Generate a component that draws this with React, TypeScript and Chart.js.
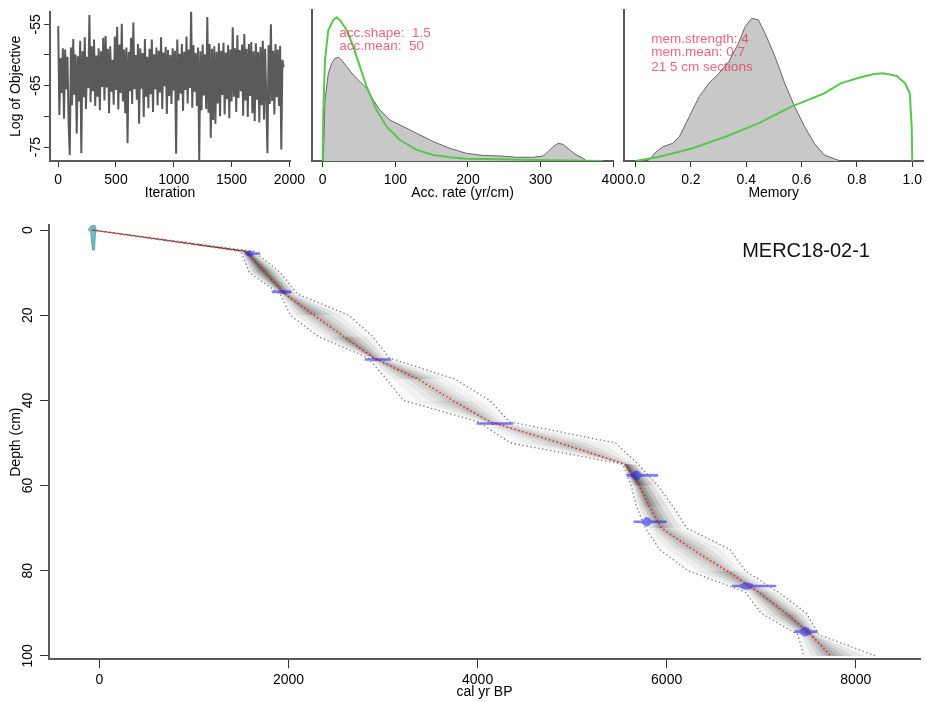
import React, { useEffect, useRef } from "react";
import { Chart, registerables } from "chart.js";

Chart.register(...registerables);

const FONT = "'Liberation Sans', Arial, Helvetica, sans-serif";
Chart.defaults.font.family = FONT;
Chart.defaults.font.size = 14;
Chart.defaults.color = "#000";

// ---------------- Panel 1: MCMC trace ----------------
const traceStep = 10;
const traceValues = [
  -55.3, -69.8, -60.5, -66.2, -58.9, -70.4, -59.1, -65.6, -60.3, -71.1,
  -76.3, -58.8, -68.2, -57.4, -66.5, -59.9, -72.8, -60.2, -67.6, -57.7,
  -76.0, -59.4, -66.9, -57.1, -68.8, -60.3, -65.4, -53.5, -67.7, -58.6,
  -65.9, -57.5, -68.3, -60.1, -66.8, -58.9, -69.0, -59.4, -65.2, -57.2,
  -67.4, -56.9, -65.3, -59.0, -69.5, -58.6, -66.0, -60.8, -68.1, -57.0,
  -65.7, -55.4, -68.9, -58.3, -66.2, -54.9, -67.6, -59.1, -69.5, -58.8,
  -74.4, -59.5, -65.9, -57.2, -68.0, -54.7, -65.6, -60.0, -67.3, -58.2,
  -71.2, -58.9, -65.5, -59.7, -70.1, -57.4, -66.8, -60.3, -68.7, -59.0,
  -66.4, -57.5, -69.3, -59.9, -65.6, -58.8, -68.2, -59.3, -66.1, -57.1,
  -68.8, -59.6, -65.1, -58.7, -69.6, -59.2, -66.7, -60.0, -68.0, -58.9,
  -65.8, -59.3, -76.1, -57.5, -67.4, -59.8, -66.3, -58.2, -69.1, -59.5,
  -65.7, -57.0, -67.9, -59.1, -65.4, -52.8, -68.6, -58.4, -66.0, -59.7,
  -68.3, -58.8, -77.1, -59.4, -69.0, -58.3, -66.6, -59.9, -68.8, -53.8,
  -69.4, -58.2, -73.5, -59.0, -70.6, -58.6, -71.2, -59.5, -67.9, -58.1,
  -70.0, -59.3, -66.5, -58.0, -69.7, -59.6, -67.2, -58.4, -70.3, -59.1,
  -67.6, -55.5, -66.8, -58.9, -69.3, -56.8, -67.0, -59.2, -65.9, -58.3,
  -69.9, -56.6, -67.4, -59.0, -70.1, -58.2, -66.7, -57.9, -69.5, -59.4,
  -70.8, -58.1, -67.3, -59.5, -71.0, -58.7, -68.2, -57.7, -70.5, -59.0,
  -67.1, -76.0, -58.4, -68.0, -55.0, -67.5, -59.3, -69.7, -58.2, -66.9,
  -59.1, -68.3, -58.5, -75.4, -60.8, -62.0,
];
const iterTicks = [0, 500, 1000, 1500, 2000];
const objTicks = [-75, -70, -65, -60, -55];
const objTickLabels = ["-75", "", "-65", "", "-55"];

// ---------------- Panel 2: accumulation rate ----------------
const accPostX = [0.9, 3.2, 7.8, 12.4, 17, 21.5, 26.1, 33, 42.1, 60.5, 69.6, 78.8, 92.6, 106.3, 129.3, 152.2, 175.1, 198.1, 221, 244, 266.8, 289.8, 303.5, 310.4, 317.3, 324.1, 331, 340.2, 349.3, 358.5, 363];
const accPost = [0, 0.424, 0.61, 0.68, 0.715, 0.722, 0.703, 0.657, 0.599, 0.506, 0.424, 0.355, 0.285, 0.251, 0.193, 0.135, 0.088, 0.053, 0.039, 0.035, 0.026, 0.026, 0.035, 0.065, 0.1, 0.123, 0.116, 0.077, 0.042, 0.019, 0];
const accPriorX = [0, 0.9, 3.2, 7.8, 14.6, 19.2, 23.8, 33, 42.1, 51.3, 60.5, 74.2, 88, 106.3, 129.3, 152.2, 175.1, 198.1, 243.9, 289.8, 386];
const accPrior = [0, 0.355, 0.703, 0.912, 0.981, 1.0, 0.981, 0.912, 0.796, 0.657, 0.517, 0.355, 0.239, 0.146, 0.077, 0.042, 0.026, 0.016, 0.012, 0.007, 0];
const accTicks = [0, 100, 200, 300, 400];
const accShapeText = "acc.shape:  1.5";
const accMeanText = "acc.mean:  50";

// ---------------- Panel 3: memory ----------------
const memPostX = [0.04, 0.051, 0.075, 0.099, 0.134, 0.158, 0.194, 0.23, 0.265, 0.301, 0.337, 0.372, 0.396, 0.42, 0.444, 0.468, 0.504, 0.539, 0.575, 0.611, 0.646, 0.682, 0.718, 0.741];
const memPost = [0, 0.012, 0.065, 0.1, 0.124, 0.17, 0.311, 0.451, 0.544, 0.614, 0.696, 0.825, 0.941, 1.0, 0.988, 0.895, 0.731, 0.544, 0.381, 0.24, 0.124, 0.042, 0.016, 0];
const memPriorX = [0, 0.087, 0.206, 0.325, 0.444, 0.563, 0.682, 0.741, 0.801, 0.861, 0.896, 0.944, 0.974, 0.991, 0.998, 1.0];
const memPrior = [0, 0.03, 0.089, 0.17, 0.264, 0.381, 0.474, 0.544, 0.58, 0.61, 0.615, 0.596, 0.544, 0.474, 0.24, 0];
const memTicks = [0, 0.2, 0.4, 0.6, 0.8, 1.0];
const memTexts = ["mem.strength: 4", "mem.mean: 0.7", "21 5 cm sections"];

// ---------------- Main: age-depth model ----------------
const depths = [0, 5, 10, 15, 20, 25, 30, 35, 40, 45, 50, 55, 60, 65, 70, 75, 80, 85, 90, 95, 100];
const ageMin = [-85, 1495, 1585, 1910, 2020, 2315, 2840, 3035, 3215, 4005, 4350, 5535, 5625, 5681, 5775, 5925, 6225, 6830, 7000, 7387, 7450];
const ageMean = [-70, 1550, 1757, 1960, 2270, 2585, 2900, 3370, 3735, 4130, 4870, 5560, 5710, 5820, 5945, 6274, 6635, 6968, 7262, 7524, 7735];
const ageMax = [-55, 1635, 1915, 2095, 2640, 2890, 3065, 3760, 4130, 4335, 5460, 5700, 5910, 6070, 6215, 6670, 6830, 7180, 7480, 7610, 8210];

const dateDepth = [5.5, 14.5, 30.4, 45.4, 57.6, 68.5, 83.6, 94.3];
const dateAge = [1590, 1930, 2915, 4165, 5680, 5790, 6845, 7465];
const dateSd = [30, 55, 45, 80, 35, 35, 55, 40];
const dateFrom = [1535, 1820, 2805, 3990, 5575, 5650, 6690, 7350];
const dateTo = [1700, 2030, 3090, 4375, 5910, 6000, 7160, 7600];
const dateHalfHeight = [0.75, 0.45, 0.4, 0.35, 1.2, 1.1, 0.85, 1.15];

const surfaceAge = [-120, -95, -50, -32, -42, -53, -74, -92];
const surfaceDepth = [0, -0.9, -1.2, 0, 0.8, 4.7, 4.7, 0.8];

const ageTicks = [0, 2000, 4000, 6000, 8000];
const depthTicks = [0, 20, 40, 60, 80, 100];
const coreName = "MERC18-02-1";

// ---------------- helpers ----------------
type TextItem = { text: string; x: number; y: number; size: number; color: string; align: CanvasTextAlign };

function labelPlugin(cfg: { yValues?: number[]; yLabels?: string[]; yOffset?: number; texts?: TextItem[] }) {
  return {
    id: "customLabels",
    afterDraw(chart: any) {
      const ctx = chart.ctx as CanvasRenderingContext2D;
      ctx.save();
      if (cfg.yValues && cfg.yLabels) {
        const s = chart.scales.y;
        const left = chart.chartArea.left;
        ctx.font = `14px ${FONT}`;
        ctx.fillStyle = "#000";
        ctx.textAlign = "center";
        ctx.textBaseline = "middle";
        cfg.yValues.forEach((v, i) => {
          const lab = cfg.yLabels![i];
          if (!lab) return;
          const y = s.getPixelForValue(v);
          ctx.save();
          ctx.translate(left - (cfg.yOffset || 0), y);
          ctx.rotate(-Math.PI / 2);
          ctx.fillText(lab, 0, 0);
          ctx.restore();
        });
      }
      if (cfg.texts) {
        for (const t of cfg.texts) {
          ctx.font = `${t.size}px ${FONT}`;
          ctx.fillStyle = t.color;
          ctx.textAlign = t.align;
          ctx.textBaseline = "middle";
          ctx.fillText(t.text, chart.scales.x.getPixelForValue(t.x), chart.scales.y.getPixelForValue(t.y));
        }
      }
      ctx.restore();
    },
  };
}

function axisX(o: any) {
  return {
    type: "linear",
    min: o.min,
    max: o.max,
    bounds: "data",
    afterBuildTicks: (s: any) => {
      s.ticks = o.ticks.map((v: number) => ({ value: v }));
    },
    afterFit: (s: any) => {
      s.height = o.height;
    },
    ticks: {
      display: true,
      autoSkip: false,
      maxRotation: 0,
      minRotation: 0,
      padding: o.padding,
      color: "#000",
      font: { size: 14 },
      callback: o.fmt,
    },
    grid: { drawOnChartArea: false, drawTicks: true, tickLength: o.tickLength, color: "#333", lineWidth: 1 },
    border: { display: true, color: "#5a5a5a", width: 2 },
    title: o.title
      ? { display: true, text: o.title, color: "#000", font: { size: 14, lineHeight: 1 }, padding: { top: 0, bottom: o.titlePad } }
      : { display: false },
  };
}

function axisY(o: any) {
  return {
    type: "linear",
    min: o.min,
    max: o.max,
    reverse: !!o.reverse,
    bounds: "data",
    afterBuildTicks: (s: any) => {
      s.ticks = (o.ticks || []).map((v: number) => ({ value: v }));
    },
    afterFit: (s: any) => {
      s.width = o.width;
    },
    ticks: { display: false },
    grid: { drawOnChartArea: false, drawTicks: !!o.tickLength, tickLength: o.tickLength || 0, color: "#333", lineWidth: 1 },
    border: { display: true, color: "#5a5a5a", width: 2 },
    title: o.title
      ? { display: true, text: o.title, color: "#000", font: { size: 14, lineHeight: 1 }, padding: { top: o.titlePad, bottom: 0 } }
      : { display: false },
  };
}

const baseOptions = (padding: any) => ({
  animation: false,
  responsive: false,
  maintainAspectRatio: false,
  events: [],
  devicePixelRatio: 1,
  layout: { autoPadding: false, padding },
  plugins: { legend: { display: false }, tooltip: { enabled: false } },
});

const pts = (xs: number[], ys: number[]) => xs.map((x, i) => ({ x, y: ys[i] }));

// ---------------- chart configs ----------------
function tracePanel(W: number, H: number) {
  return {
    type: "scatter",
    data: {
      datasets: [
        {
          data: traceValues.map((v, i) => ({ x: i * traceStep, y: v })),
          showLine: true,
          borderColor: "#5a5a5a",
          borderWidth: 2,
          pointRadius: 0,
          pointHoverRadius: 0,
          fill: false,
        },
      ],
    },
    options: {
      ...baseOptions({ left: 0, top: 11.7, right: W - 293, bottom: 0 }),
      scales: {
        x: axisX({ min: -71, max: 2006, ticks: iterTicks, height: H - 161, padding: 5, tickLength: 6, fmt: (v: any) => String(v), title: "Iteration", titlePad: 0 }),
        y: axisY({ min: -77.28, max: -52.95, ticks: objTicks, width: 50, tickLength: 6, title: "Log of Objective", titlePad: 9.5 }),
      },
    },
    plugins: [labelPlugin({ yValues: objTicks, yLabels: objTickLabels, yOffset: 14 })],
  };
}

function accPanel(W: number, H: number) {
  return {
    type: "scatter",
    data: {
      datasets: [
        {
          data: pts(accPriorX, accPrior),
          showLine: true,
          borderColor: "#55c84a",
          borderWidth: 2,
          pointRadius: 0,
          fill: false,
          order: 0,
        },
        {
          data: pts(accPostX, accPost),
          showLine: true,
          borderColor: "#666",
          borderWidth: 1,
          backgroundColor: "#c8c8c8",
          pointRadius: 0,
          fill: "origin",
          order: 1,
        },
      ],
    },
    options: {
      ...baseOptions({ left: 0, top: 10, right: W - 313.3, bottom: 0 }),
      scales: {
        x: axisX({ min: -15.1, max: 400, ticks: accTicks, height: H - 161, padding: 5, tickLength: 6, fmt: (v: any) => String(v), title: "Acc. rate (yr/cm)", titlePad: 0 }),
        y: axisY({ min: 0, max: 1.051, ticks: [], width: 11.7 }),
      },
    },
    plugins: [
      labelPlugin({
        texts: [
          { text: accShapeText, x: 22.8, y: 0.89, size: 13.5, color: "rgba(235,40,75,0.72)", align: "left" },
          { text: accMeanText, x: 22.8, y: 0.797, size: 13.5, color: "rgba(235,40,75,0.72)", align: "left" },
        ],
      }),
    ],
  };
}

function memPanel(W: number, H: number) {
  return {
    type: "scatter",
    data: {
      datasets: [
        {
          data: pts(memPriorX, memPrior),
          showLine: true,
          borderColor: "#55c84a",
          borderWidth: 2,
          pointRadius: 0,
          fill: false,
          order: 0,
        },
        {
          data: pts(memPostX, memPost),
          showLine: true,
          borderColor: "#666",
          borderWidth: 1,
          backgroundColor: "#c8c8c8",
          pointRadius: 0,
          fill: "origin",
          order: 1,
        },
      ],
    },
    options: {
      ...baseOptions({ left: 0, top: 10, right: 0, bottom: 0 }),
      scales: {
        x: axisX({ min: -0.0418, max: 1.04, ticks: memTicks, height: H - 161, padding: 5, tickLength: 6, fmt: (v: any) => Number(v).toFixed(1), title: "Memory", titlePad: 0 }),
        y: axisY({ min: 0, max: 1.058, ticks: [], width: 14 }),
      },
    },
    plugins: [
      labelPlugin({
        texts: memTexts.map((t, i) => ({ text: t, x: 0.057, y: [0.853, 0.759, 0.657][i], size: 13.5, color: "rgba(235,40,75,0.72)", align: "left" as CanvasTextAlign })),
      }),
    ],
  };
}

function mainPanel(W: number, H: number) {
  const datasets: any[] = [];
  // mean age line (red dotted)
  datasets.push({
    data: pts(ageMean, depths),
    showLine: true,
    borderColor: "rgba(255,0,0,0.95)",
    borderWidth: 1.4,
    borderDash: [1.4, 2.6],
    pointRadius: 0,
    fill: false,
    order: 0,
  });
  // 95% envelopes (grey dotted)
  [ageMin, ageMax].forEach((arr) =>
    datasets.push({
      data: pts(arr, depths),
      showLine: true,
      borderColor: "rgba(95,95,95,0.85)",
      borderWidth: 1.3,
      borderDash: [1.3, 2.7],
      pointRadius: 0,
      fill: false,
      order: 1,
    })
  );
  // dated depths (blue calibrated distributions)
  dateDepth.forEach((d, k) => {
    const n = 48;
    const upper: { x: number; y: number }[] = [];
    const lower: { x: number; y: number }[] = [];
    for (let j = 0; j <= n; j++) {
      const a = dateFrom[k] + ((dateTo[k] - dateFrom[k]) * j) / n;
      const z = (a - dateAge[k]) / dateSd[k];
      const h = Math.max(0.3, dateHalfHeight[k] * Math.exp(-0.5 * z * z));
      upper.push({ x: a, y: d - h });
      lower.push({ x: a, y: d + h });
    }
    datasets.push({
      data: upper.concat(lower.reverse()),
      showLine: true,
      borderWidth: 0,
      borderColor: "rgba(0,0,0,0)",
      backgroundColor: "rgba(20,20,255,0.55)",
      pointRadius: 0,
      fill: "shape",
      order: 2,
    });
  });
  // surface date (teal)
  datasets.push({
    data: pts(surfaceAge, surfaceDepth),
    showLine: true,
    borderWidth: 0.8,
    borderColor: "rgba(0,120,120,0.6)",
    backgroundColor: "rgba(0,135,135,0.55)",
    pointRadius: 0,
    fill: "shape",
    order: 2,
  });
  // grey probability cloud
  const levels = [1.0, 0.75, 0.5, 0.3, 0.15];
  const weights = [0.35, 0.6, 0.85, 1, 1];
  for (let i = 0; i < depths.length - 1; i++) {
    const w = (ageMax[i] - ageMin[i] + (ageMax[i + 1] - ageMin[i + 1])) / 2;
    const a = Math.min(0.42, 50 / w);
    levels.forEach((f, k) => {
      const L = (j: number) => ageMean[j] - f * (ageMean[j] - ageMin[j]);
      const R = (j: number) => ageMean[j] + f * (ageMax[j] - ageMean[j]);
      datasets.push({
        data: [
          { x: L(i), y: depths[i] },
          { x: L(i + 1), y: depths[i + 1] },
          { x: R(i + 1), y: depths[i + 1] },
          { x: R(i), y: depths[i] },
        ],
        showLine: true,
        borderWidth: 0,
        borderColor: "rgba(0,0,0,0)",
        backgroundColor: `rgba(0,0,0,${(a * weights[k]).toFixed(3)})`,
        pointRadius: 0,
        fill: "shape",
        order: 10,
      });
    });
  }
  return {
    type: "scatter",
    data: { datasets },
    options: {
      ...baseOptions({ left: 0, top: 25, right: W - 920, bottom: 0 }),
      scales: {
        x: axisX({ min: -534, max: 8680, ticks: ageTicks, height: H - 459.3, padding: 3.3, tickLength: 9, fmt: (v: any) => String(v), title: "cal yr BP", titlePad: 3 }),
        y: axisY({ min: -1.2, max: 100.8, reverse: true, ticks: depthTicks, width: 49, tickLength: 9, title: "Depth (cm)", titlePad: 9 }),
      },
    },
    plugins: [
      labelPlugin({
        yValues: depthTicks,
        yLabels: depthTicks.map((v) => String(v)),
        yOffset: 20.7,
        texts: [{ text: coreName, x: 8151, y: 5.1, size: 20, color: "#111", align: "right" }],
      }),
    ],
  };
}

function ChartCanvas(props: { left: number; top: number; width: number; height: number; build: (w: number, h: number) => any }) {
  const ref = useRef<HTMLCanvasElement>(null);
  useEffect(() => {
    const chart = new Chart(ref.current as HTMLCanvasElement, props.build(props.width, props.height));
    return () => chart.destroy();
  }, []);
  return (
    <canvas
      ref={ref}
      width={props.width}
      height={props.height}
      style={{ position: "absolute", left: props.left, top: props.top, width: props.width, height: props.height }}
    />
  );
}

export default function App() {
  return (
    <div style={{ position: "absolute", left: 0, top: 0, width: 927, height: 702, overflow: "hidden", background: "#fff" }}>
      <ChartCanvas left={0} top={200} width={927} height={502} build={mainPanel} />
      <ChartCanvas left={0} top={0} width={310} height={200} build={tracePanel} />
      <ChartCanvas left={300} top={0} width={330} height={200} build={accPanel} />
      <ChartCanvas left={610} top={0} width={317} height={200} build={memPanel} />
    </div>
  );
}
